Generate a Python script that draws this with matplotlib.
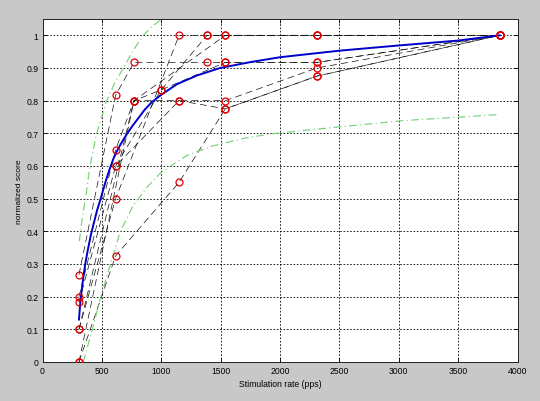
import matplotlib
matplotlib.use("Agg")
import matplotlib.pyplot as plt

# ---- data ----
# individual subjects: (rate, normalized score)
subj1_x = [307, 616, 1150, 1540, 2310, 3850]
subj1_y = [0.0, 0.325, 0.55, 0.775, 0.875, 1.0]
subj2_x = [307, 616, 1150, 1385, 1540, 2310, 3850]
subj2_y = [0.1, 0.5, 1.0, 1.0, 1.0, 1.0, 1.0]
subj3_x = [307, 616, 1150, 1540, 2310, 3850]
subj3_y = [0.183, 0.6, 0.8, 0.8, 0.9, 1.0]
subj4_x = [307, 616, 770, 1000, 1385, 2310, 3850]
subj4_y = [0.2, 0.65, 0.8, 0.833, 1.0, 1.0, 1.0]
subj5_x = [307, 616, 770, 1385, 1540, 2310, 3850]
subj5_y = [0.267, 0.817, 0.917, 0.917, 0.917, 0.917, 1.0]
subj6_x = [307, 770, 1150, 1540, 2310, 3850]
subj6_y = [0.0, 0.8, 0.8, 0.775, 0.875, 1.0]
subj7_x = [307, 770, 1540, 2310, 3850]
subj7_y = [0.1, 0.8, 1.0, 1.0, 1.0]
subj8_x = [616, 1000, 1540, 2310, 3850]
subj8_y = [0.6, 0.833, 0.917, 0.917, 1.0]
subjects = [(subj1_x, subj1_y), (subj2_x, subj2_y), (subj3_x, subj3_y),
            (subj4_x, subj4_y), (subj5_x, subj5_y), (subj6_x, subj6_y),
            (subj7_x, subj7_y), (subj8_x, subj8_y)]

# mean fit (blue)
fit_x = [307, 318, 330, 344, 360, 380, 405, 432, 460, 490, 525, 563, 600, 640, 680, 720,
         760, 800, 860, 919, 1000, 1130, 1300, 1495, 1750, 2000, 2500, 3000, 3500, 3850]
fit_y = [0.13, 0.18, 0.22, 0.26, 0.3, 0.34, 0.385, 0.425, 0.465, 0.5, 0.545, 0.588, 0.625,
         0.655, 0.68, 0.703, 0.724, 0.743, 0.772, 0.795, 0.818, 0.85, 0.877, 0.9, 0.918,
         0.933, 0.953, 0.969, 0.984, 1.0]

# confidence bounds (green)
upper_x = [310, 335, 362, 400, 456, 540, 610, 681, 760, 849, 925, 1004, 1100]
upper_y = [0.37, 0.44, 0.5, 0.6, 0.7, 0.8, 0.855, 0.9, 0.952, 1.0, 1.028, 1.05, 1.075]
lower_x = [344, 420, 484, 568, 653, 765, 880, 998, 1214, 1438, 1700, 1916, 2477, 3038, 3825]
lower_y = [0.0, 0.1, 0.19, 0.295, 0.397, 0.48, 0.535, 0.58, 0.632, 0.662, 0.685, 0.698, 0.719, 0.739, 0.757]

x_ticks = [0, 500, 1000, 1500, 2000, 2500, 3000, 3500, 4000]
y_ticks = [0, 0.1, 0.2, 0.3, 0.4, 0.5, 0.6, 0.7, 0.8, 0.9, 1]
y_ticklabels = ["0", "0.1", "0.2", "0.3", "0.4", "0.5", "0.6", "0.7", "0.8", "0.9", "1"]

plt.rcParams['font.family'] = ['Liberation Sans', 'DejaVu Sans']

fig = plt.figure(figsize=(5.4, 4.02), dpi=100, facecolor='#c8c8c8')
ax = fig.add_axes([42.5 / 540, 39 / 402, 475 / 540, 343 / 402])
ax.set_facecolor('white')

for sx, sy in subjects:
    ax.plot(sx, sy, color='#111111', lw=0.5, linestyle=(0, (10, 6)), zorder=2)
for sx, sy in subjects:
    ax.plot(sx, sy, linestyle='none', marker='o', ms=5, mfc='none', mec='#dd0000', mew=0.9, zorder=4)

ax.plot(fit_x, fit_y, color='#0000cc', lw=1.4, zorder=3)
ax.plot(upper_x, upper_y, color='#70d070', lw=0.8, linestyle=(0, (7, 3, 1, 3)), zorder=2)
ax.plot(lower_x, lower_y, color='#70d070', lw=0.8, linestyle=(0, (7, 3, 1, 3)), zorder=2)

ax.set_xlim(0, 4000)
ax.set_ylim(0, 1.05)
ax.set_xticks(x_ticks)
ax.set_xticklabels([str(t) for t in x_ticks])
ax.set_yticks(y_ticks)
ax.set_yticklabels(y_ticklabels)
ax.grid(True, color='black', lw=0.6, linestyle=(0, (2, 2)))
ax.set_axisbelow(True)
ax.tick_params(direction='in', length=3, width=0.6, labelsize=6.2, top=True, right=True, pad=3)
for sp in ax.spines.values():
    sp.set_linewidth(0.7)
    sp.set_color('#222222')
ax.set_xlabel('Stimulation rate (pps)', fontsize=6.2, labelpad=3)
ax.set_ylabel('normalized score', fontsize=6.0, labelpad=2)

fig.savefig('out.png', dpi=100, facecolor=fig.get_facecolor())
